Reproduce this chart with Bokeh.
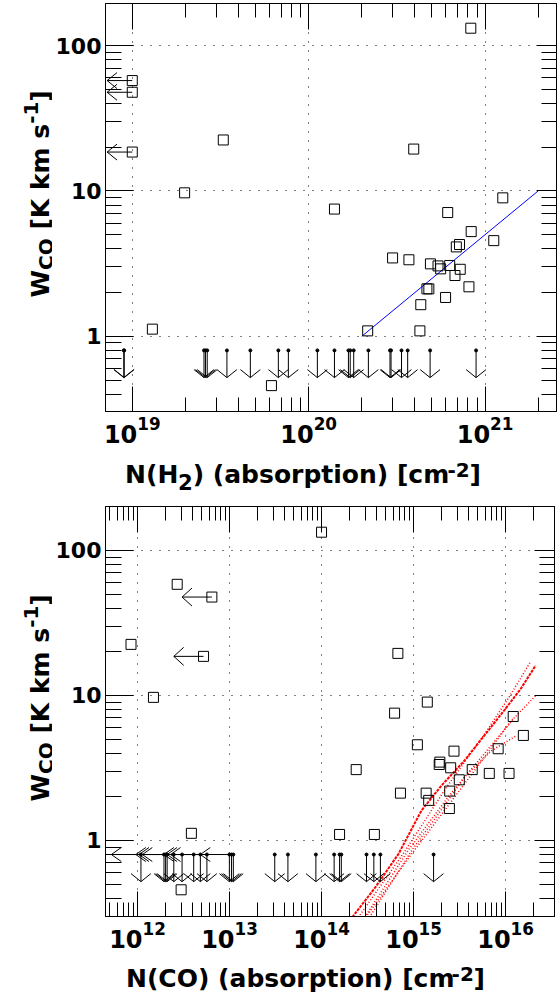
import math

from bokeh.embed import file_html
from bokeh.layouts import column, row
from bokeh.models import CustomJSTickFormatter, FixedTicker, Label, LogAxis, LogTickFormatter
from bokeh.plotting import figure
from bokeh.resources import INLINE

FONT = "DejaVu Sans"

# ---------------------------------------------------------------- data
# Upper panel: W_CO against N(H2) from absorption
h2_n = [8.3e20, 3.28e19, 3.94e20, 1.98e19, 1.40e20, 1.26e21, 6.14e20, 8.34e20,
        1.12e21, 7.16e20, 6.87e20, 2.99e20, 3.70e20, 4.90e20, 5.41e20, 5.60e20,
        6.30e20, 7.23e20, 6.75e20, 4.68e20, 4.80e20, 8.10e20, 5.97e20, 4.32e20,
        4.27e20, 2.16e20, 1.30e19, 6.15e19]
h2_w = [131.5, 22.4, 19.4, 9.7, 7.5, 8.96, 7.1, 5.25,
        4.55, 4.28, 4.12, 3.46, 3.36, 3.15, 3.05, 2.91,
        3.07, 2.89, 2.62, 2.12, 2.12, 2.19, 1.85, 1.65,
        1.09, 1.09, 1.12, 0.458]
# upper limits on N(H2)
h2_limn_n = [1.0e19, 1.0e19, 1.0e19]
h2_limn_tip = [7.2e18, 7.2e18, 7.2e18]
h2_limn_w = [57.4, 47.7, 18.5]
# upper limits on W_CO
h2_limw_n = [8.95e18, 9.0e18, 2.55e19, 2.60e19, 2.66e19, 3.44e19, 4.67e19, 6.73e19,
             7.67e19, 1.12e20, 1.40e20, 1.68e20, 1.72e20, 1.80e20, 2.18e20,
             2.89e20, 2.93e20, 3.36e20, 3.64e20, 4.88e20, 8.89e20]
# linear relation W_CO = N(H2) / 2e20
fit_n = [2.0e20, 2.0e21]
fit_w = [1.0, 10.0]

# Lower panel: W_CO against N(CO) from absorption
co_n = [1.0e14, 2.7e12, 6.43e12, 8.5e11, 5.22e12, 6.75e14, 1.49e12, 1.41e15,
        6.22e14, 1.21e16, 1.56e16, 1.10e15, 8.3e15, 2.75e15, 1.93e15, 1.90e15,
        2.53e15, 4.34e15, 6.65e15, 1.09e16, 2.38e14, 3.14e15, 7.2e14, 1.37e15,
        1.46e15, 2.47e15, 2.45e15, 3.85e12, 1.57e14, 3.75e14, 2.98e12]
co_w = [133.6, 58.4, 47.7, 22.5, 18.6, 19.5, 9.7, 9.0,
        7.55, 7.16, 5.3, 4.57, 4.29, 4.13, 3.47, 3.34,
        3.17, 3.08, 2.9, 2.9, 3.08, 2.62, 2.12, 2.12,
        1.89, 2.19, 1.66, 1.12, 1.1, 1.1, 0.457]
# upper limits on N(CO)
co_limn_n = [6.43e12, 5.22e12]
co_limn_tip = [3.05e12, 2.48e12]
co_limn_w = [47.7, 18.6]
# upper limits on W_CO
co_limw_n = [1.09e12, 1.94e12, 2.02e12, 2.10e12, 2.48e12, 3.05e12, 4.08e12, 4.82e12,
             5.68e12, 9.96e12, 1.05e13, 1.10e13, 3.10e13, 4.31e13, 8.68e13, 1.37e14,
             1.57e14, 1.64e14, 3.08e14, 3.70e14, 4.36e14, 1.65e15]
# sources with limits on both quantities (left arrows at the W_CO limit)
co_both_n = [1.09e12, 2.02e12, 2.10e12, 2.48e12, 4.08e12, 4.82e12, 5.68e12, 1.05e13]
co_both_tip = [5.2e11, 9.6e11, 1.04e12, 1.13e12, 1.94e12, 2.10e12, 2.29e12, 4.82e12]

lim_w_top = 0.8
lim_w_tip = 0.52

# model tracks
model_n = [
    [2.16e14, 3.85e14, 6.87e14, 1.22e15, 2.01e15, 3.58e15, 5.89e15, 9.66e15, 1.46e16, 2.12e16],
    [2.51e14, 7.94e14, 2.24e15, 6.31e15, 1.12e16, 1.86e16],
    [2.95e14, 8.91e14, 2.51e15, 7.08e15, 1.26e16, 2.14e16],
    [3.02e14, 9.33e14, 2.51e15, 6.31e15, 1.23e16],
    [3.31e14, 1.0e15, 1.58e15, 3.72e15, 7.08e15, 1.29e16],
]
model_w = [
    [0.296, 0.476, 0.809, 1.61, 2.39, 3.56, 5.30, 7.89, 11.1, 16.1],
    [0.295, 0.832, 2.29, 5.75, 10.0, 17.0],
    [0.295, 0.871, 2.09, 4.57, 7.08, 10.0],
    [0.295, 0.794, 1.82, 3.98, 7.08],
    [0.295, 0.891, 1.32, 2.82, 4.17, 5.25],
]

w_major = [1, 10, 100]
h2_major = [1e19, 1e20, 1e21]
co_major = [1e12, 1e13, 1e14, 1e15, 1e16]

# ---------------------------------------------------------------- layout sizes
YT_W = 52            # strip holding the vertical title
MAIN_W = 560 - YT_W

# advance widths (em) of DejaVu Sans Bold, used to set rich titles piece by piece
ADV = {" ": 0.348, "W": 1.10, "C": 0.734, "O": 0.850, "[": 0.457, "]": 0.457,
       "K": 0.775, "k": 0.665, "m": 1.042, "s": 0.595, "-": 0.415, "N": 0.837,
       "(": 0.457, ")": 0.457, "H": 0.837, "a": 0.675, "b": 0.716, "o": 0.687,
       "r": 0.493, "p": 0.716, "t": 0.478, "i": 0.343, "n": 0.712, "c": 0.593}


def text_width(text, size):
    return sum(ADV.get(ch, 0.696) for ch in text) * size


def title_strip(width, height, left=0, right=0, top=0, bottom=0):
    """Axis-less figure whose frame lines up with the neighbouring panel frame."""
    fw, fh = width - left - right, height - top - bottom
    p = figure(width=width, height=height, x_range=(0, fw), y_range=(0, fh),
               x_axis_location=None, y_axis_location=None,
               min_border_left=left, min_border_right=right,
               min_border_top=top, min_border_bottom=bottom,
               output_backend="svg", toolbar_location=None)
    p.outline_line_color = None
    p.grid.visible = False
    p.background_fill_color = "white"
    p.border_fill_color = "white"
    return p


def rich_title(p, pieces, x0, y0, size, vertical=False):
    """Set a title from (text, scale, rise) pieces, starting at baseline point (x0, y0)."""
    pos = y0 if vertical else x0
    for text, scale, rise in pieces:
        fs = size * scale
        # leading blanks are collapsed in SVG text, so advance past them here
        stripped = text.lstrip(" ")
        pos += text_width(text[: len(text) - len(stripped)], fs)
        if vertical:
            lx, ly, ang = x0 - rise * size, pos, math.pi / 2
        else:
            lx, ly, ang = pos, y0 + rise * size, 0
        p.add_layout(Label(x=lx, y=ly, text=stripped, angle=ang, text_font=FONT,
                           text_font_style="bold", text_font_size=f"{fs:.1f}px",
                           text_color="black", text_align="left",
                           text_baseline="alphabetic"))
        pos += text_width(stripped, fs)


def minors(majors, lo, hi):
    out = []
    for m in [majors[0] / 10] + list(majors):
        for k in range(2, 10):
            v = m * k
            if lo < v < hi:
                out.append(v)
    return out


def style_axis(ax, tick_in, minor_in):
    ax.axis_line_color = "black"
    ax.major_tick_line_color = "black"
    ax.minor_tick_line_color = "black"
    ax.major_tick_out = 0
    ax.minor_tick_out = 0
    ax.major_tick_in = tick_in
    ax.minor_tick_in = minor_in
    ax.major_label_text_font = FONT
    ax.major_label_text_font_style = "bold"
    ax.major_label_text_color = "black"
    ax.axis_label = None


def panel(x_range, y_range, x_major, x_minor, height, left, right, top, bottom):
    p = figure(width=MAIN_W, height=height, x_axis_type="log", y_axis_type="log",
               x_range=x_range, y_range=y_range, output_backend="svg",
               toolbar_location=None, min_border_left=left, min_border_right=right,
               min_border_top=top, min_border_bottom=bottom)
    p.background_fill_color = "white"
    p.border_fill_color = "white"
    p.outline_line_color = "black"
    p.outline_line_width = 1

    xt = FixedTicker(ticks=x_major, minor_ticks=x_minor)
    yt = FixedTicker(ticks=w_major, minor_ticks=minors(w_major, y_range[0], y_range[1]))

    ax_b = p.below[0]
    ax_l = p.left[0]
    blank = CustomJSTickFormatter(code="return ''")
    ax_t = LogAxis(ticker=xt, formatter=blank)
    ax_r = LogAxis(ticker=yt, formatter=blank)
    p.add_layout(ax_t, "above")
    p.add_layout(ax_r, "right")

    ax_b.ticker = xt
    ax_l.ticker = yt

    style_axis(ax_b, 25, 14)
    style_axis(ax_t, 26, 14)
    style_axis(ax_l, 28, 16)
    style_axis(ax_r, 20, 15)

    ax_b.formatter = LogTickFormatter()
    ax_b.major_label_text_font_size = "24px"
    ax_b.major_label_standoff = 4
    ax_l.formatter = CustomJSTickFormatter(code="return String(Math.round(tick))")
    ax_l.major_label_text_font_size = "22px"
    ax_l.major_label_standoff = 4
    for ax in (ax_t, ax_r):
        ax.major_label_text_font_size = "1px"
        ax.major_label_standoff = 0

    p.xgrid.ticker = xt
    p.ygrid.ticker = yt
    for g in (p.xgrid, p.ygrid):
        g.grid_line_color = "black"
        g.grid_line_dash = "1 8"
        g.grid_line_width = 1
        g.minor_grid_line_color = None
    return p


def px_per_decade(lo, hi, pixels):
    return pixels / (math.log10(hi) - math.log10(lo))


def down_arrows(p, xs, ppx, ppy, half=10, wing=8):
    fx, fy = 10 ** (half / ppx), 10 ** (wing / ppy)
    n = len(xs)
    p.segment(x0=xs, y0=[lim_w_top] * n, x1=xs, y1=[lim_w_tip] * n, line_color="black", line_width=1)
    p.segment(x0=xs, y0=[lim_w_tip] * n, x1=[x / fx for x in xs], y1=[lim_w_tip * fy] * n,
              line_color="black", line_width=1)
    p.segment(x0=xs, y0=[lim_w_tip] * n, x1=[x * fx for x in xs], y1=[lim_w_tip * fy] * n,
              line_color="black", line_width=1)
    p.scatter(xs, [lim_w_top] * n, size=3, color="black")


def left_arrows(p, tails, tips, ys, ppx, ppy, half=8, wing=10):
    fx, fy = 10 ** (wing / ppx), 10 ** (half / ppy)
    p.segment(x0=tails, y0=ys, x1=tips, y1=ys, line_color="black", line_width=1)
    p.segment(x0=tips, y0=ys, x1=[t * fx for t in tips], y1=[y * fy for y in ys],
              line_color="black", line_width=1)
    p.segment(x0=tips, y0=ys, x1=[t * fx for t in tips], y1=[y / fy for y in ys],
              line_color="black", line_width=1)


def squares(p, xs, ys):
    p.scatter(xs, ys, marker="square", size=10, fill_color=None, line_color="black", line_width=1)


W_PIECES = [("W", 1.0, 0), ("CO", 0.8, -0.2), (" [K km s", 1.0, 0), ("-1", 0.8, 0.4), ("]", 1.0, 0)]

# ---------------------------------------------------------------- upper panel
H2_X = (7.05e18, 2.54e21)
W_Y1 = (0.304, 194.5)
top = panel(H2_X, W_Y1, h2_major, minors(h2_major, 1.1e19, H2_X[1]), 450,
            left=50, right=4, top=3, bottom=39)
ppx1 = px_per_decade(*H2_X, 454)
ppy1 = px_per_decade(*W_Y1, 408)

top.line(fit_n, fit_w, line_color="#0000ff", line_width=1)
down_arrows(top, h2_limw_n, ppx1, ppy1)
left_arrows(top, h2_limn_n, h2_limn_tip, h2_limn_w, ppx1, ppy1)
squares(top, h2_n, h2_w)
squares(top, h2_limn_n, h2_limn_w)

# frame of the strip: x 102..556, y 450..500
xt1 = title_strip(MAIN_W, 50, left=50, right=4)
rich_title(xt1, [("N(H", 1.0, 0), ("2", 0.85, -0.3), (") (absorption) [cm", 1.0, 0),
                 ("-2", 0.8, 0.2), ("]", 1.0, 0)], 19.7, 26, 25)
# frame of the strip: x 0..52, y 3..411
yt1 = title_strip(YT_W, 500, top=3, bottom=89)
rich_title(yt1, W_PIECES, 40, 114, 25, vertical=True)

# ---------------------------------------------------------------- lower panel
CO_X = (4.49e11, 3.40e16)
W_Y2 = (0.299, 200.9)
bot = panel(CO_X, W_Y2, co_major, minors(co_major, CO_X[0], 2.5e16), 454,
            left=49, right=6, top=6, bottom=38)
ppx2 = px_per_decade(*CO_X, 453)
ppy2 = px_per_decade(*W_Y2, 410)

for i, (mn, mw) in enumerate(zip(model_n, model_w)):
    bot.line(mn, mw, line_color="#ff0000", line_width=2 if i == 0 else 1.5,
             line_dash="3 1" if i == 0 else "1 2")
down_arrows(bot, co_limw_n, ppx2, ppy2)
left_arrows(bot, co_both_n, co_both_tip, [lim_w_top] * len(co_both_n), ppx2, ppy2, half=7)
left_arrows(bot, co_limn_n, co_limn_tip, co_limn_w, ppx2, ppy2, half=9)
squares(bot, co_n, co_w)

# frame of the strip: x 101..554, y 954..998
xt2 = title_strip(MAIN_W, 44, left=49, right=6)
rich_title(xt2, [("N(CO) (absorption) [cm", 1.0, 0), ("-2", 0.8, 0.2), ("]", 1.0, 0)],
           20.7, 20, 25)
# frame of the strip: x 0..52, y 506..916
yt2 = title_strip(YT_W, 498, top=6, bottom=82)
rich_title(yt2, W_PIECES, 40, 115, 25, vertical=True)

layout = column(
    row(yt1, column(top, xt1)),
    row(yt2, column(bot, xt2)),
)
open("out.html", "w").write(file_html(layout, INLINE))
